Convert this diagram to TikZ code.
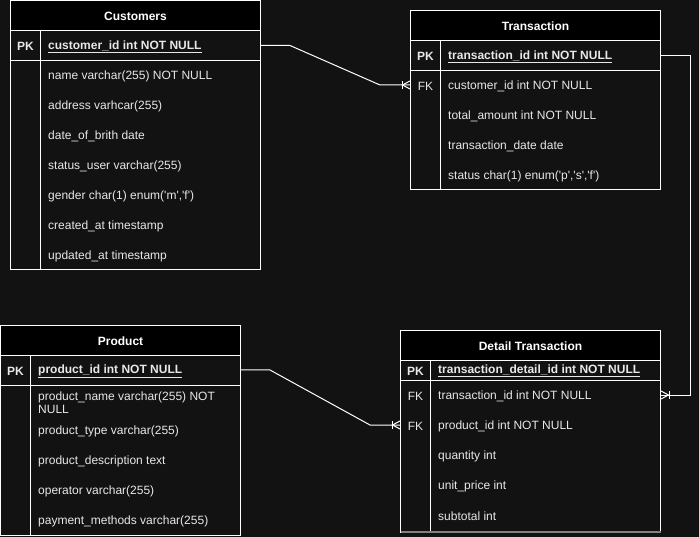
\documentclass[tikz,border=0pt]{standalone}
\usepackage{fontspec}
\setmainfont{Liberation Sans}
\usepackage{tikz}
\definecolor{bgdark}{HTML}{121212}
\definecolor{fieldtxt}{HTML}{E8E8E8}
\tikzset{
  tbl/.style={draw=white, line width=1pt},
  conn/.style={draw=white, line width=1pt},
  title/.style={text=white, inner sep=0pt, yshift=-1.2pt, font=\fontsize{12}{14}\selectfont\bfseries},
  keycol/.style={text=fieldtxt, inner sep=0pt, yshift=-1.2pt, font=\fontsize{12}{14}\selectfont},
  field/.style={anchor=west, text=fieldtxt, inner sep=0pt, yshift=-1.2pt, align=left, font=\fontsize{12}{14}\selectfont},
  manyend/.pic={
    \draw[white, line width=1pt] (0,-4)--(0,4);
    \draw[white, line width=1pt] (8,-4)--(0.5,0)--(8,4);
  }
}
\newcommand{\pkey}[1]{\textbf{\underline{#1}}}
\newcommand{\sq}{\textquotesingle}

\begin{document}
\begin{tikzpicture}[x=1pt,y=-1pt]
\fill[bgdark] (0,0) rectangle (699,537);
\useasboundingbox (0,0) rectangle (699,537);

% Customers
\fill[black] (10.5,0.5) rectangle (260.5,30.5);
\draw[tbl] (10.5,0.5) rectangle (260.5,270);
\draw[tbl] (10.5,30.5)--(260.5,30.5);
\draw[tbl] (10.5,60.5)--(260.5,60.5);
\draw[tbl] (40.5,30.5)--(40.5,270);
\node[title] (cust) at (135.5,15.5) {Customers};
\node[keycol, font=\fontsize{12}{14}\selectfont\bfseries] (custpkk) at (25.5,45.5) {PK};
\node[field] (custpk) at (48,45.5) {\pkey{customer\_id int NOT NULL}};
\node[field] (custname) at (48,75) {name varchar(255) NOT NULL};
\node[field] (custaddr) at (48,105) {address varhcar(255)};
\node[field] (custdob) at (48,135) {date\_of\_brith date};
\node[field] (custstat) at (48,165) {status\_user varchar(255)};
\node[field] (custgend) at (48,195) {gender char(1) enum(\sq m\sq,\sq f\sq)};
\node[field] (custcre) at (48,225) {created\_at timestamp};
\node[field] (custupd) at (48,255) {updated\_at timestamp};
\coordinate (custport) at (260.5,45.5);

% Transaction
\fill[black] (410.5,10.5) rectangle (660.5,40.5);
\draw[tbl] (410.5,10.5) rectangle (660.5,190);
\draw[tbl] (410.5,40.5)--(660.5,40.5);
\draw[tbl] (410.5,70.5)--(660.5,70.5);
\draw[tbl] (440.5,40.5)--(440.5,190);
\node[title] (trans) at (535.5,25.5) {Transaction};
\node[keycol, font=\fontsize{12}{14}\selectfont\bfseries] (transpkk) at (425.5,55.5) {PK};
\node[field] (transpk) at (448,55.5) {\pkey{transaction\_id int NOT NULL}};
\node[keycol] (transfkk) at (425.5,85) {FK};
\node[field] (transcust) at (448,85) {customer\_id int NOT NULL};
\node[field] (transamt) at (448,115) {total\_amount int NOT NULL};
\node[field] (transdate) at (448,145) {transaction\_date date};
\node[field] (transstat) at (448,175) {status char(1) enum(\sq p\sq,\sq s\sq,\sq f\sq)};
\coordinate (transin) at (410.5,85);
\coordinate (transout) at (660.5,55.5);

% Product
\fill[black] (0.5,325.5) rectangle (240.5,355.5);
\draw[tbl] (0.5,325.5) rectangle (240.5,535);
\draw[tbl] (0.5,355.5)--(240.5,355.5);
\draw[tbl] (0.5,385.5)--(240.5,385.5);
\draw[tbl] (30.5,355.5)--(30.5,535);
\node[title] (prod) at (120.5,340) {Product};
\node[keycol, font=\fontsize{12}{14}\selectfont\bfseries] (prodpkk) at (15.5,370) {PK};
\node[field] (prodpk) at (38,370) {\pkey{product\_id int NOT NULL}};
\node[field, font=\fontsize{12}{13}\selectfont] (prodname) at (38,401.5) {product\_name varchar(255) NOT\\NULL};
\node[field] (prodtype) at (38,430) {product\_type varchar(255)};
\node[field] (proddesc) at (38,460) {product\_description text};
\node[field] (prodop) at (38,490) {operator varchar(255)};
\node[field] (prodpay) at (38,520) {payment\_methods varchar(255)};
\coordinate (prodport) at (240.5,370);

% Detail Transaction
\fill[black] (400.5,330.5) rectangle (660.5,360.5);
\draw[tbl] (400.5,330.5) rectangle (660.5,532);
\draw[tbl] (400.5,360.5)--(660.5,360.5);
\draw[tbl] (400.5,380.5)--(660.5,380.5);
\draw[tbl] (430.5,360.5)--(430.5,532);
\draw[gray, line width=1.5pt] (400.5,532)--(660.5,532);
\node[title] (det) at (530.5,345) {Detail Transaction};
\node[keycol, font=\fontsize{12}{14}\selectfont\bfseries] (detpkk) at (415.5,370) {PK};
\node[field] (detpk) at (438,370) {\pkey{transaction\_detail\_id int NOT NULL}};
\node[keycol] (detfkk1) at (415.5,395) {FK};
\node[field] (dettrans) at (438,395) {transaction\_id int NOT NULL};
\node[keycol] (detfkk2) at (415.5,425) {FK};
\node[field] (detprod) at (438,425) {product\_id int NOT NULL};
\node[field] (detqty) at (438,455) {quantity int};
\node[field] (detprice) at (438,485) {unit\_price int};
\node[field] (detsub) at (438,515) {subtotal int};
\coordinate (dettin) at (660.5,395);
\coordinate (detpin) at (400.5,425);

% relations
\draw[conn] (custport)--++(29.5,0)--(380,85)--(transin);
\pic at (402,85) {manyend};
\draw[conn] (transout)--(690,55.5)--(690,395)--(dettin);
\pic[rotate=180] at (669,395) {manyend};
\draw[conn] (prodport)--++(29.5,0)--(370,425)--(detpin);
\pic at (392,425) {manyend};
\end{tikzpicture}
\end{document}
